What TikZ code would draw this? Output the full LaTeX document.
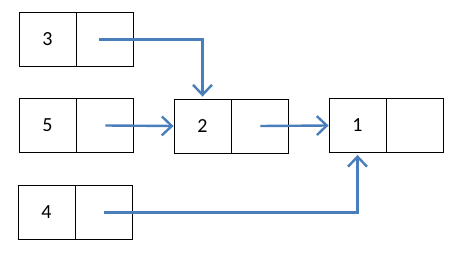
\documentclass[tikz,border=0pt]{standalone}
\usepackage{fontspec}
\setmainfont{Carlito}
\usepackage{xcolor}
\usepackage{tikz}
\usetikzlibrary{arrows.meta,positioning}

\begin{document}
\begin{tikzpicture}[x=1pt, y=-1pt]
    % Define colors
    \definecolor{linkblue}{RGB}{74,126,187}

    \tikzset{
        cell/.style={draw, line width=0.9pt, minimum width=57pt, minimum height=54pt,
            inner sep=0pt, font=\fontsize{20}{24}\selectfont},
        link/.style={draw=linkblue, line width=2.4pt,
            -{Straight Barb[length=10pt, width=19pt, line width=2.4pt]}}
    }

    \useasboundingbox (0,0) rectangle (465,262);

    % Value cells with their pointer cells
    \node[cell] (n3) at (47.5,39.5) {3};
    \node[cell, right=0pt of n3] (n3p) {};

    \node[cell] (n5) at (47.5,125.5) {5};
    \node[cell, right=0pt of n5] (n5p) {};

    \node[cell] (n2) at (202.5,126) {2};
    \node[cell, right=0pt of n2] (n2p) {};

    \node[cell] (n1) at (357.5,125.5) {1};
    \node[cell, right=0pt of n1] (n1p) {};

    \node[cell] (n4) at (46.5,212.5) {4};
    \node[cell, right=0pt of n4] (n4p) {};

    % Links
    \draw[link, shorten >=2pt] ([xshift=-6pt]n3p.center) -| (n2.north);
    \draw[link] (n5p.center) -- (n2.west);
    \draw[link] (n2p.center) -- (n1.west);
    \draw[link, shorten >=2pt] (n4p.center) -| (n1.south);
\end{tikzpicture}
\end{document}
